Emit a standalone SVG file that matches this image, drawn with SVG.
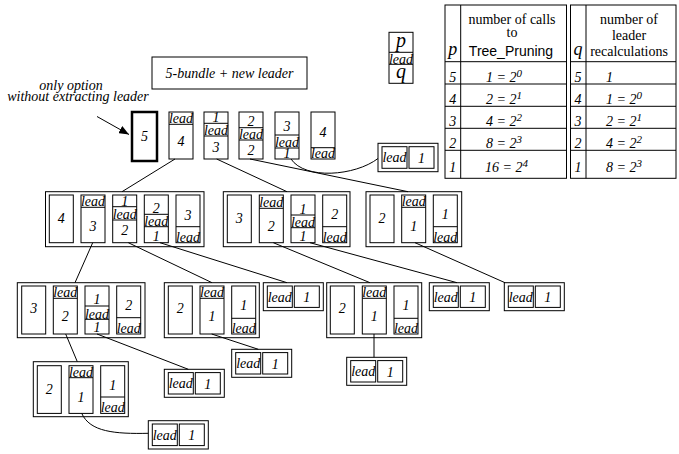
<svg xmlns="http://www.w3.org/2000/svg" width="679" height="454" viewBox="0 0 679 454">
<defs>
<style>
.bx{fill:none;stroke:#000;stroke-width:1}
.bold{fill:none;stroke:#000;stroke-width:2.5}
line{stroke:#000;stroke-width:1}
.cn{fill:none;stroke:#000;stroke-width:1}
text{font-family:"Liberation Serif","Times New Roman",serif;font-style:italic;font-size:14px;text-anchor:middle;fill:#000}
.rm{font-style:normal}
.sn{font-family:"Liberation Sans",Arial,sans-serif;font-style:normal}
.st{text-anchor:start}
.big{font-size:20px}
.hd{font-size:18px}
</style>
<marker id="ah" markerWidth="10" markerHeight="8" refX="10" refY="4" orient="auto" markerUnits="userSpaceOnUse"><path d="M0,0 L10,4 L0,8 z" fill="#000"/></marker>
</defs>
<rect width="679" height="454" fill="#fff"/>

<g id="note">
<text x="71" y="89.5">only option</text>
<text x="78" y="101">without extracting leader</text>
</g>

<g id="bundle">
<rect class="bx" x="152" y="57" width="155" height="32"/>
<text x="229.5" y="78">5-bundle + new leader</text>
</g>

<g id="legend">
<rect class="bx" x="389" y="32.3" width="24" height="51"/>
<line x1="389" y1="52.3" x2="413" y2="52.3"/>
<line x1="389" y1="64.3" x2="413" y2="64.3"/>
<text class="big" x="401" y="47">p</text>
<text x="401" y="63.5">lead</text>
<text class="big" x="401" y="77.5">q</text>
</g>

<g id="table1">
<rect class="bx" x="445" y="5" width="121.5" height="173.3"/>
<line x1="460.7" y1="5" x2="460.7" y2="178.3"/>
<line x1="445" y1="61.7" x2="566.5" y2="61.7"/>
<line x1="445" y1="84" x2="566.5" y2="84"/>
<line x1="445" y1="106.3" x2="566.5" y2="106.3"/>
<line x1="445" y1="128.3" x2="566.5" y2="128.3"/>
<line x1="445" y1="150.3" x2="566.5" y2="150.3"/>
<text class="hd" x="452.8" y="55">p</text>
<text class="rm" x="512" y="23.5">number of calls</text>
<text class="rm" x="512" y="36.5">to</text>
<text class="sn" x="511" y="55.5">Tree_Pruning</text>
<text x="452.8" y="81.5">5</text>
<text x="452.8" y="103.5">4</text>
<text x="452.8" y="125.5">3</text>
<text x="452.8" y="147.8">2</text>
<text x="452.8" y="171.5">1</text>
<text class="st" x="486" y="81.5">1 = 2<tspan dy="-5" font-size="11">0</tspan></text>
<text class="st" x="486" y="103.5">2 = 2<tspan dy="-5" font-size="11">1</tspan></text>
<text class="st" x="486" y="125.5">4 = 2<tspan dy="-5" font-size="11">2</tspan></text>
<text class="st" x="486" y="147.8">8 = 2<tspan dy="-5" font-size="11">3</tspan></text>
<text class="st" x="485" y="171.5">16 = 2<tspan dy="-5" font-size="11">4</tspan></text>
</g>

<g id="table2">
<rect class="bx" x="570.5" y="5" width="105.5" height="173.3"/>
<line x1="586" y1="5" x2="586" y2="178.3"/>
<line x1="570.5" y1="61.7" x2="676" y2="61.7"/>
<line x1="570.5" y1="84" x2="676" y2="84"/>
<line x1="570.5" y1="106.3" x2="676" y2="106.3"/>
<line x1="570.5" y1="128.3" x2="676" y2="128.3"/>
<line x1="570.5" y1="150.3" x2="676" y2="150.3"/>
<text class="hd" x="578" y="55">q</text>
<text class="rm" x="629" y="23.5">number of</text>
<text class="rm" x="629" y="40">leader</text>
<text class="rm" x="629" y="56">recalculations</text>
<text x="578" y="81.5">5</text>
<text x="578" y="103.5">4</text>
<text x="578" y="125.5">3</text>
<text x="578" y="147.8">2</text>
<text x="578" y="171.5">1</text>
<text class="st" x="606" y="81.5">1</text>
<text class="st" x="606" y="103.5">1 = 2<tspan dy="-5" font-size="11">0</tspan></text>
<text class="st" x="606" y="125.5">2 = 2<tspan dy="-5" font-size="11">1</tspan></text>
<text class="st" x="606" y="147.8">4 = 2<tspan dy="-5" font-size="11">2</tspan></text>
<text class="st" x="606" y="171.5">8 = 2<tspan dy="-5" font-size="11">3</tspan></text>
</g>

<g id="connectors">
<line x1="97" y1="116.5" x2="129" y2="134.5" marker-end="url(#ah)"/>
<line x1="175" y1="159" x2="122" y2="191.7"/>
<line x1="216.7" y1="159" x2="287" y2="191.7"/>
<line x1="250" y1="159" x2="408" y2="191.7"/>
<path class="cn" d="M291,159 C305,180 355,176 378,158.5"/>
<line x1="92.7" y1="242.7" x2="75" y2="282.7"/>
<line x1="128.3" y1="242.7" x2="212" y2="282.7"/>
<line x1="160" y1="242.7" x2="287" y2="282.7"/>
<line x1="273.3" y1="242.7" x2="370" y2="282.7"/>
<line x1="310" y1="242.7" x2="457" y2="282.7"/>
<line x1="415" y1="242.7" x2="505" y2="282.7"/>
<line x1="65.7" y1="334" x2="77.3" y2="361.7"/>
<line x1="97" y1="334" x2="188.3" y2="369.3"/>
<line x1="211.7" y1="334" x2="258.3" y2="349.3"/>
<line x1="374" y1="334" x2="374" y2="357.3"/>
<path class="cn" d="M81.7,413.3 C90,432 115,434 148.3,433.3"/>
</g>

<g id="top5">
<rect class="bold" x="132" y="112" width="25" height="49"/>
<text x="144.5" y="141">5</text>
</g>
<g id="top4">
<rect class="bx" x="169" y="112" width="24" height="47"/>
<line x1="169" y1="124.3" x2="193" y2="124.3"/>
<text x="181" y="123">lead</text>
<text x="181" y="146">4</text>
</g>
<g id="top3">
<rect class="bx" x="204" y="112" width="24" height="47"/>
<line x1="204" y1="123.3" x2="228" y2="123.3"/>
<line x1="204" y1="136" x2="228" y2="136"/>
<text x="216" y="122">1</text>
<text x="216" y="135">lead</text>
<text x="216" y="152">3</text>
</g>
<g id="top2">
<rect class="bx" x="239" y="112" width="24" height="47"/>
<line x1="239" y1="127.7" x2="263" y2="127.7"/>
<line x1="239" y1="140" x2="263" y2="140"/>
<text x="251" y="126">2</text>
<text x="251" y="139">lead</text>
<text x="251" y="155">2</text>
</g>
<g id="top1">
<rect class="bx" x="275" y="112" width="24" height="47"/>
<line x1="275" y1="135" x2="299" y2="135"/>
<line x1="275" y1="148" x2="299" y2="148"/>
<text x="287" y="131">3</text>
<text x="287" y="147">lead</text>
<text x="287" y="158">1</text>
</g>
<g id="top0">
<rect class="bx" x="311" y="112" width="24" height="47"/>
<line x1="311" y1="147.7" x2="335" y2="147.7"/>
<text x="323" y="137">4</text>
<text x="323" y="158">lead</text>
</g>
<g id="pairA">
<rect class="bx" x="378" y="143.3" width="60" height="28.4"/>
<rect class="bx" x="382" y="146.7" width="25" height="21.6"/>
<rect class="bx" x="409" y="146.7" width="25" height="21.6"/>
<text x="394.5" y="162.3">lead</text>
<text x="421.5" y="162.5">1</text>
</g>

<g id="l2a">
<rect class="bx" x="45.5" y="191.7" width="158.5" height="55"/>
<rect class="bx" x="49.3" y="195" width="24" height="47.7"/>
<text x="61.3" y="223">4</text>
<rect class="bx" x="81" y="195" width="24" height="47.7"/>
<line x1="81" y1="207.3" x2="105" y2="207.3"/>
<text x="93" y="206">lead</text>
<text x="93" y="231">3</text>
<rect class="bx" x="112.7" y="195" width="24" height="47.7"/>
<line x1="112.7" y1="206.7" x2="136.7" y2="206.7"/>
<line x1="112.7" y1="220" x2="136.7" y2="220"/>
<text x="124.7" y="205.5">1</text>
<text x="124.7" y="219">lead</text>
<text x="124.7" y="235">2</text>
<rect class="bx" x="144.3" y="195" width="24" height="47.7"/>
<line x1="144.3" y1="214.3" x2="168.3" y2="214.3"/>
<line x1="144.3" y1="226.7" x2="168.3" y2="226.7"/>
<text x="156.3" y="212.5">2</text>
<text x="156.3" y="226">lead</text>
<text x="156.3" y="240.5">1</text>
<rect class="bx" x="176" y="195" width="24" height="47.7"/>
<line x1="176" y1="226.7" x2="200" y2="226.7"/>
<text x="188" y="220">3</text>
<text x="188" y="241.5">lead</text>
</g>

<g id="l2b">
<rect class="bx" x="223.3" y="191.7" width="126.7" height="55"/>
<rect class="bx" x="227.3" y="195" width="24" height="47.7"/>
<text x="239.3" y="223">3</text>
<rect class="bx" x="259.3" y="195" width="24" height="47.7"/>
<line x1="259.3" y1="208.3" x2="283.3" y2="208.3"/>
<text x="271.3" y="207">lead</text>
<text x="271.3" y="231">2</text>
<rect class="bx" x="291" y="195" width="24" height="47.7"/>
<line x1="291" y1="215" x2="315" y2="215"/>
<line x1="291" y1="227.7" x2="315" y2="227.7"/>
<text x="303" y="213.5">1</text>
<text x="303" y="227">lead</text>
<text x="303" y="240.5">1</text>
<rect class="bx" x="322.7" y="195" width="24" height="47.7"/>
<line x1="322.7" y1="226.7" x2="346.7" y2="226.7"/>
<text x="334.7" y="219">2</text>
<text x="334.7" y="241.5">lead</text>
</g>

<g id="l2c">
<rect class="bx" x="366" y="191.7" width="95.7" height="55"/>
<rect class="bx" x="370" y="195" width="24" height="47.7"/>
<text x="382" y="223">2</text>
<rect class="bx" x="401.7" y="195" width="24" height="47.7"/>
<line x1="401.7" y1="207.3" x2="425.7" y2="207.3"/>
<text x="413.7" y="206">lead</text>
<text x="413.7" y="231">1</text>
<rect class="bx" x="433.3" y="195" width="24" height="47.7"/>
<line x1="433.3" y1="226.7" x2="457.3" y2="226.7"/>
<text x="445.3" y="219">1</text>
<text x="445.3" y="241.5">lead</text>
</g>

<g id="l3a">
<rect class="bx" x="17.3" y="282.7" width="127.7" height="55"/>
<rect class="bx" x="21.7" y="286" width="24" height="48"/>
<text x="33.7" y="313">3</text>
<rect class="bx" x="53.3" y="286" width="24" height="48"/>
<line x1="53.3" y1="298.3" x2="77.3" y2="298.3"/>
<text x="65.3" y="297">lead</text>
<text x="65.3" y="321">2</text>
<rect class="bx" x="85" y="286" width="24" height="48"/>
<line x1="85" y1="306" x2="109" y2="306"/>
<line x1="85" y1="319.3" x2="109" y2="319.3"/>
<text x="97" y="304">1</text>
<text x="97" y="318.5">lead</text>
<text x="97" y="331.5">1</text>
<rect class="bx" x="116.7" y="286" width="24" height="48"/>
<line x1="116.7" y1="317.7" x2="140.7" y2="317.7"/>
<text x="128.7" y="310">2</text>
<text x="128.7" y="332.5">lead</text>
</g>

<g id="l3b">
<rect class="bx" x="164.3" y="282.7" width="95" height="55"/>
<rect class="bx" x="168.3" y="286" width="24" height="48"/>
<text x="180.3" y="313">2</text>
<rect class="bx" x="200" y="286" width="24" height="48"/>
<line x1="200" y1="298.3" x2="224" y2="298.3"/>
<text x="212" y="297">lead</text>
<text x="212" y="321">1</text>
<rect class="bx" x="231.7" y="286" width="24" height="48"/>
<line x1="231.7" y1="318.3" x2="255.7" y2="318.3"/>
<text x="243.7" y="310">1</text>
<text x="243.7" y="332.5">lead</text>
</g>

<g id="pairB">
<rect class="bx" x="263.3" y="282.7" width="60" height="28"/>
<rect class="bx" x="267.3" y="286" width="25" height="21.4"/>
<rect class="bx" x="294.3" y="286" width="25" height="21.4"/>
<text x="279.8" y="301.7">lead</text>
<text x="306.8" y="302">1</text>
</g>

<g id="l3c">
<rect class="bx" x="326.7" y="282.7" width="95" height="55"/>
<rect class="bx" x="330.3" y="286" width="24" height="48"/>
<text x="342.3" y="313">2</text>
<rect class="bx" x="362.3" y="286" width="24" height="48"/>
<line x1="362.3" y1="298.3" x2="386.3" y2="298.3"/>
<text x="374.3" y="297">lead</text>
<text x="374.3" y="321">1</text>
<rect class="bx" x="394" y="286" width="24" height="48"/>
<line x1="394" y1="318.3" x2="418" y2="318.3"/>
<text x="406" y="310">1</text>
<text x="406" y="332.5">lead</text>
</g>

<g id="pairC">
<rect class="bx" x="429.3" y="282.7" width="60" height="28"/>
<rect class="bx" x="433.3" y="286" width="25" height="21.4"/>
<rect class="bx" x="460.3" y="286" width="25" height="21.4"/>
<text x="445.8" y="301.7">lead</text>
<text x="472.8" y="302">1</text>
</g>

<g id="pairD">
<rect class="bx" x="504.3" y="282.7" width="60" height="28"/>
<rect class="bx" x="508.3" y="286" width="25" height="21.4"/>
<rect class="bx" x="535.3" y="286" width="25" height="21.4"/>
<text x="520.8" y="301.7">lead</text>
<text x="547.8" y="302">1</text>
</g>

<g id="pairE">
<rect class="bx" x="164.3" y="369.3" width="60" height="28"/>
<rect class="bx" x="168.3" y="372.6" width="25" height="21.4"/>
<rect class="bx" x="195.3" y="372.6" width="25" height="21.4"/>
<text x="180.8" y="388.3">lead</text>
<text x="207.8" y="388.6">1</text>
</g>

<g id="pairF">
<rect class="bx" x="231.7" y="349.3" width="60" height="28"/>
<rect class="bx" x="235.7" y="352.6" width="25" height="21.4"/>
<rect class="bx" x="262.7" y="352.6" width="25" height="21.4"/>
<text x="248.2" y="368.3">lead</text>
<text x="275.2" y="368.6">1</text>
</g>

<g id="pairG">
<rect class="bx" x="346.7" y="357.3" width="60" height="28"/>
<rect class="bx" x="350.7" y="360.6" width="25" height="21.4"/>
<rect class="bx" x="377.7" y="360.6" width="25" height="21.4"/>
<text x="363.2" y="376.3">lead</text>
<text x="390.2" y="376.6">1</text>
</g>

<g id="l4">
<rect class="bx" x="33.3" y="361.7" width="95" height="55"/>
<rect class="bx" x="37.3" y="365.7" width="24" height="47.7"/>
<text x="49.3" y="393.5">2</text>
<rect class="bx" x="69" y="365.7" width="24" height="47.7"/>
<line x1="69" y1="377.7" x2="93" y2="377.7"/>
<text x="81" y="376.5">lead</text>
<text x="81" y="401.5">1</text>
<rect class="bx" x="100.7" y="365.7" width="24" height="47.7"/>
<line x1="100.7" y1="397" x2="124.7" y2="397"/>
<text x="112.7" y="389.5">1</text>
<text x="112.7" y="412">lead</text>
</g>

<g id="pairH">
<rect class="bx" x="148.3" y="420.7" width="60" height="28.3"/>
<rect class="bx" x="152.3" y="424" width="25" height="21.6"/>
<rect class="bx" x="179.3" y="424" width="25" height="21.6"/>
<text x="164.8" y="439.7">lead</text>
<text x="191.8" y="440">1</text>
</g>
</svg>
